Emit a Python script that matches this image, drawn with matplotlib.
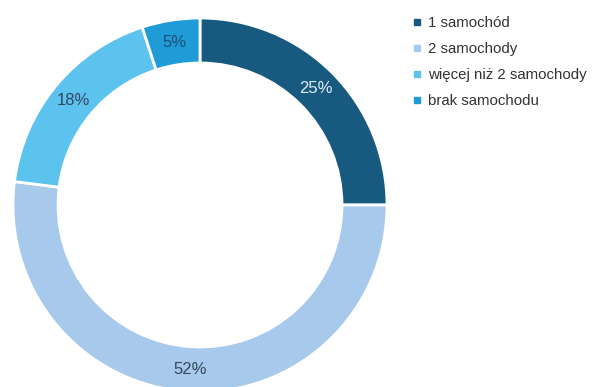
import numpy as np
import matplotlib.pyplot as plt
from matplotlib.lines import Line2D

# data
labels = ['1 samochód', '2 samochody', 'więcej niż 2 samochody', 'brak samochodu']
values = [25, 52, 18, 5]
colors = ['#17597f', '#a6c9ec', '#5cc3ef', '#1f9bd6']
label_colors = ['#e3eef8', '#34475c', '#34475c', '#1f4e79']

plt.rcParams['font.family'] = ['Liberation Sans', 'DejaVu Sans']

fig = plt.figure(figsize=(5.94, 3.87), dpi=100)
ax = fig.add_axes([0, 0, 1, 1])

cx, cy = 200, 387 - 205
outer = 187
width = 45
wedges, texts = ax.pie(values, colors=colors, startangle=90, counterclock=False,
                       radius=outer, center=(cx, cy),
                       wedgeprops=dict(width=width, edgecolor='white', linewidth=2))

# percentage labels in the middle of the ring
for w, v, c in zip(wedges, values, label_colors):
    mid = np.deg2rad((w.theta1 + w.theta2) / 2)
    r = outer - width / 2
    ax.text(cx + r * np.cos(mid), cy + r * np.sin(mid), f'{v}%',
            ha='center', va='center', fontsize=12, color=c)

ax.set_xlim(0, 594)
ax.set_ylim(0, 387)
ax.set_aspect('equal')
ax.axis('off')

handles = [Line2D([], [], marker='s', linestyle='', markersize=4.5, color=c) for c in colors]
leg = ax.legend(handles, labels, loc='upper left', bbox_to_anchor=(406 / 594, 1 - 10 / 387),
                frameon=False, fontsize=10.8, labelspacing=0.8, handlelength=0.6,
                handletextpad=0.5, borderaxespad=0)
for t in leg.get_texts():
    t.set_color('#333333')

fig.savefig('out.png', dpi=100)
